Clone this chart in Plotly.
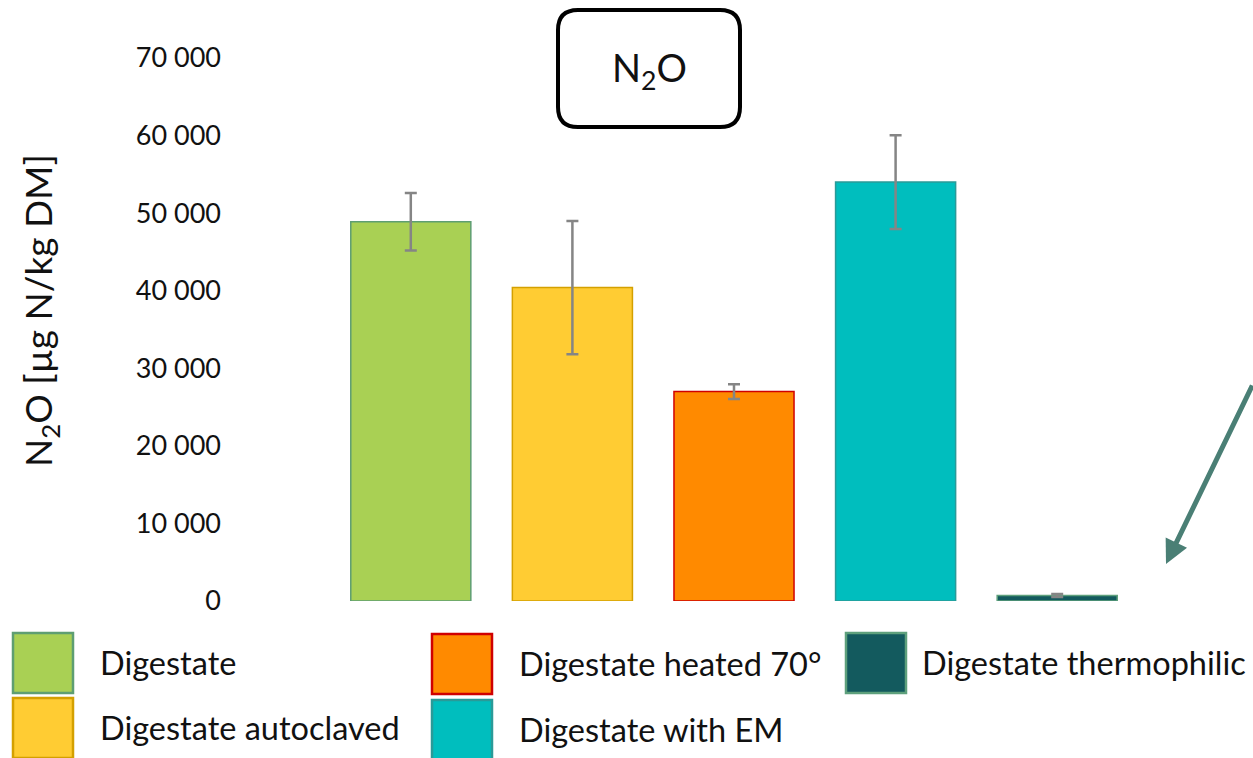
import plotly.graph_objects as go

categories = ["Digestate", "Digestate autoclaved", "Digestate heated 70°",
              "Digestate with EM", "Digestate thermophilic"]
values = [48900, 40400, 27000, 54000, 700]
errors = [3700, 8600, 950, 6050, 200]
fill_colors = ["#A9D054", "#FFCC33", "#FF8A00", "#00BEBE", "#135A5E"]
line_colors = ["#5E9E72", "#D4A000", "#D00000", "#2A9A98", "#5EA07C"]
y_ticks = [0, 10000, 20000, 30000, 40000, 50000, 60000, 70000]
y_tick_text = ["0", "10 000", "20 000", "30 000", "40 000", "50 000", "60 000", "70 000"]

FONT = "Lato"
W, H = 1253, 758
L, R, T, B = 330, 115, 58, 157
PW, PH = W - L - R, H - T - B

def px(x):
    return (x - L) / PW

def py(y):
    return (T + PH - y) / PH

fig = go.Figure()
fig.add_trace(go.Bar(
    x=list(range(len(categories))), y=values,
    marker=dict(color=fill_colors, line=dict(color=line_colors, width=1.5)),
    error_y=dict(type="data", array=errors, visible=True,
                 color="#858585", thickness=2.5, width=6),
    showlegend=False, width=0.743,
))

shapes = []
annotations = []

# legend (custom, drawn from category/colour lists)
legend_pos = [(13, 633), (13, 698), (432, 634), (432, 700), (846, 633)]
for name, fc, lc, (lx, ly) in zip(categories, fill_colors, line_colors, legend_pos):
    shapes.append(dict(type="rect", xref="paper", yref="paper",
                       x0=px(lx), x1=px(lx + 60), y0=py(ly), y1=py(ly + 60),
                       fillcolor=fc, line=dict(color=lc, width=2.5), layer="above"))
    annotations.append(dict(xref="paper", yref="paper", x=px(lx + 85 if lx < 800 else lx + 74),
                            y=py(ly + 29), text=name, showarrow=False,
                            xanchor="left", yanchor="middle",
                            font=dict(family=FONT, size=32.5, color="#111")))

# title box with rounded corners
bx0, bx1, by0, by1, r = 558, 740, 10, 127, 20
path = (f"M {px(bx0 + r)},{py(by0)} L {px(bx1 - r)},{py(by0)} "
        f"Q {px(bx1)},{py(by0)} {px(bx1)},{py(by0 + r)} "
        f"L {px(bx1)},{py(by1 - r)} Q {px(bx1)},{py(by1)} {px(bx1 - r)},{py(by1)} "
        f"L {px(bx0 + r)},{py(by1)} Q {px(bx0)},{py(by1)} {px(bx0)},{py(by1 - r)} "
        f"L {px(bx0)},{py(by0 + r)} Q {px(bx0)},{py(by0)} {px(bx0 + r)},{py(by0)} Z")
shapes.append(dict(type="path", xref="paper", yref="paper", path=path,
                   line=dict(color="black", width=4), fillcolor="white"))
annotations.append(dict(xref="paper", yref="paper", x=px(649), y=py(70),
                        text="N<sub>2</sub>O", showarrow=False,
                        xanchor="center", yanchor="middle",
                        font=dict(family=FONT, size=38, color="#111")))

# y axis title
annotations.append(dict(xref="paper", yref="paper", x=px(40), y=py(311),
                        text="N<sub>2</sub>O [µg N/kg DM]", showarrow=False,
                        textangle=-90, xanchor="center", yanchor="middle",
                        font=dict(family=FONT, size=37, color="#111")))

# arrow pointing to thermophilic bar
annotations.append(dict(xref="paper", yref="paper", x=px(1166), y=py(564),
                        ax=92, ay=-180, text="", showarrow=True,
                        arrowhead=2, arrowsize=0.95, arrowwidth=5,
                        arrowcolor="#4A7F75"))

fig.update_layout(
    width=W, height=H,
    margin=dict(l=L, r=R, t=T, b=B, pad=0),
    paper_bgcolor="white", plot_bgcolor="white",
    shapes=shapes, annotations=annotations,
    xaxis=dict(range=[-0.5, 4.5], showticklabels=False, showgrid=False,
               zeroline=False, showline=False, ticks=""),
    yaxis=dict(range=[0, 70000], tickvals=y_ticks, ticktext=y_tick_text,
               showgrid=False, zeroline=False, showline=False,
               ticklabelstandoff=108,
               tickfont=dict(family=FONT, size=27, color="#111")),
    font=dict(family=FONT),
)

fig.write_html("out.html", config={"displayModeBar": False},
               post_script="document.body.style.margin='0';")
